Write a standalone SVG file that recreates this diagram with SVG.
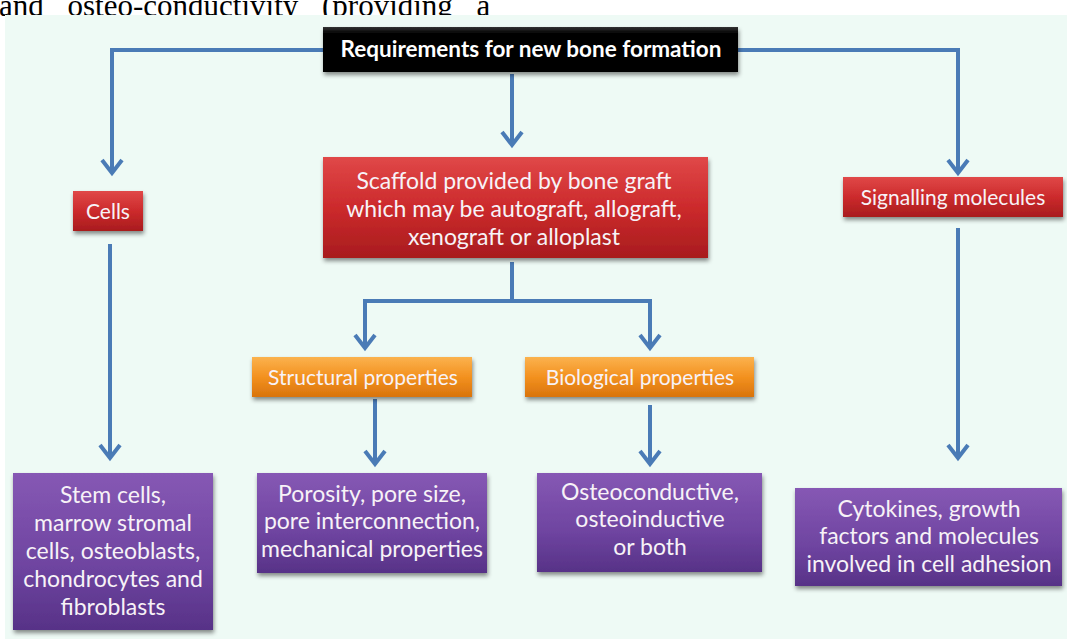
<svg xmlns="http://www.w3.org/2000/svg" width="1067" height="639" viewBox="0 0 1067 639">
<style>
.t{font-family:Lato,"Open Sans","Liberation Sans",sans-serif;fill:#f7f2f7;text-anchor:middle;font-size:23px}
.s{font-size:21px}
.h{font-family:Lato,"Liberation Sans",sans-serif;fill:#ffffff;text-anchor:middle;font-size:22.5px;font-weight:bold}
.c{fill:none;stroke:#4a7bb6;stroke-width:4}
</style>
<defs>
<linearGradient id="red" x1="0" y1="0" x2="0" y2="1">
<stop offset="0" stop-color="#e04848"/><stop offset="0.5" stop-color="#cc2a2c"/><stop offset="1" stop-color="#a81c1e"/>
</linearGradient>
<linearGradient id="org" x1="0" y1="0" x2="0" y2="1">
<stop offset="0" stop-color="#fbb24e"/><stop offset="0.5" stop-color="#f3911f"/><stop offset="1" stop-color="#d9730c"/>
</linearGradient>
<linearGradient id="pur" x1="0" y1="0" x2="0" y2="1">
<stop offset="0" stop-color="#8658b4"/><stop offset="0.6" stop-color="#6e44a0"/><stop offset="1" stop-color="#573287"/>
</linearGradient>
<linearGradient id="blk" x1="0" y1="0" x2="0" y2="1">
<stop offset="0" stop-color="#333"/><stop offset="0.15" stop-color="#000"/><stop offset="1" stop-color="#000"/>
</linearGradient>
<filter id="sh" x="-10%" y="-10%" width="125%" height="140%">
<feDropShadow dx="1" dy="3" stdDeviation="2" flood-color="#000" flood-opacity="0.45"/>
</filter>
<marker id="ar" markerWidth="20" markerHeight="24" viewBox="0 0 20 24" refX="16" refY="12" orient="auto" markerUnits="userSpaceOnUse">
<polyline points="3,2 16,12 3,22" fill="none" stroke="#4a7bb6" stroke-width="4" stroke-linejoin="miter"/>
</marker>
</defs>
<rect x="0" y="0" width="1067" height="639" fill="#ffffff"/>
<text x="-1" y="16" font-family="Liberation Serif,serif" font-size="31" word-spacing="16" fill="#000">and osteo-conductivity (providing a</text>
<rect x="5" y="15" width="1062" height="624" fill="#eefaf5"/>
<g id="connectors" class="c">
<polyline points="323,50 112,50 112,173" marker-end="url(#ar)"/>
<polyline points="738,50 958,50 958,173" marker-end="url(#ar)"/>
<line x1="512" y1="74" x2="512" y2="145" marker-end="url(#ar)"/>
<polyline points="512,262 512,301 365,301 365,348" marker-end="url(#ar)"/>
<polyline points="512,301 650,301 650,348" marker-end="url(#ar)"/>
<line x1="110" y1="244" x2="110" y2="458" marker-end="url(#ar)"/>
<line x1="958" y1="228" x2="958" y2="458" marker-end="url(#ar)"/>
<line x1="375" y1="399" x2="375" y2="464" marker-end="url(#ar)"/>
<line x1="650" y1="405" x2="650" y2="464" marker-end="url(#ar)"/>
</g>
<g id="header">
<rect x="323" y="27" width="415" height="45" fill="url(#blk)" filter="url(#sh)"/>
<text class="h" x="531" y="57">Requirements for new bone formation</text>
</g>
<g id="scaffold">
<rect x="323" y="157" width="385" height="101" fill="url(#red)" filter="url(#sh)"/>
<text class="t" x="514" y="189">Scaffold provided by bone graft</text>
<text class="t" x="514" y="217">which may be autograft, allograft,</text>
<text class="t" x="514" y="245">xenograft or alloplast</text>
</g>
<g id="cells">
<rect x="73" y="191" width="70" height="40" fill="url(#red)" filter="url(#sh)"/>
<text class="t s" x="108" y="219">Cells</text>
</g>
<g id="signalling">
<rect x="843" y="177" width="220" height="40" fill="url(#red)" filter="url(#sh)"/>
<text class="t s" x="953" y="205">Signalling molecules</text>
</g>
<g id="structural">
<rect x="252" y="357" width="220" height="40" fill="url(#org)" filter="url(#sh)"/>
<text class="t s" x="363" y="385">Structural properties</text>
</g>
<g id="biological">
<rect x="525" y="357" width="229" height="40" fill="url(#org)" filter="url(#sh)"/>
<text class="t s" x="640" y="385">Biological properties</text>
</g>
<g id="stemcells">
<rect x="13" y="473" width="200" height="157" fill="url(#pur)" filter="url(#sh)"/>
<text class="t" x="113" y="503">Stem cells,</text>
<text class="t" x="113" y="531">marrow stromal</text>
<text class="t" x="113" y="559">cells, osteoblasts,</text>
<text class="t" x="113" y="587">chondrocytes and</text>
<text class="t" x="113" y="615">fibroblasts</text>
</g>
<g id="porosity">
<rect x="257" y="473" width="230" height="100" fill="url(#pur)" filter="url(#sh)"/>
<text class="t" x="372" y="502">Porosity, pore size,</text>
<text class="t" x="372" y="529">pore interconnection,</text>
<text class="t" x="372" y="557">mechanical properties</text>
</g>
<g id="osteo">
<rect x="537" y="473" width="225" height="99" fill="url(#pur)" filter="url(#sh)"/>
<text class="t" x="650" y="500">Osteoconductive,</text>
<text class="t" x="650" y="527">osteoinductive</text>
<text class="t" x="650" y="555">or both</text>
</g>
<g id="cytokines">
<rect x="795" y="488" width="267" height="98" fill="url(#pur)" filter="url(#sh)"/>
<text class="t" x="929" y="517">Cytokines, growth</text>
<text class="t" x="929" y="544">factors and molecules</text>
<text class="t" x="929" y="572">involved in cell adhesion</text>
</g>
</svg>
